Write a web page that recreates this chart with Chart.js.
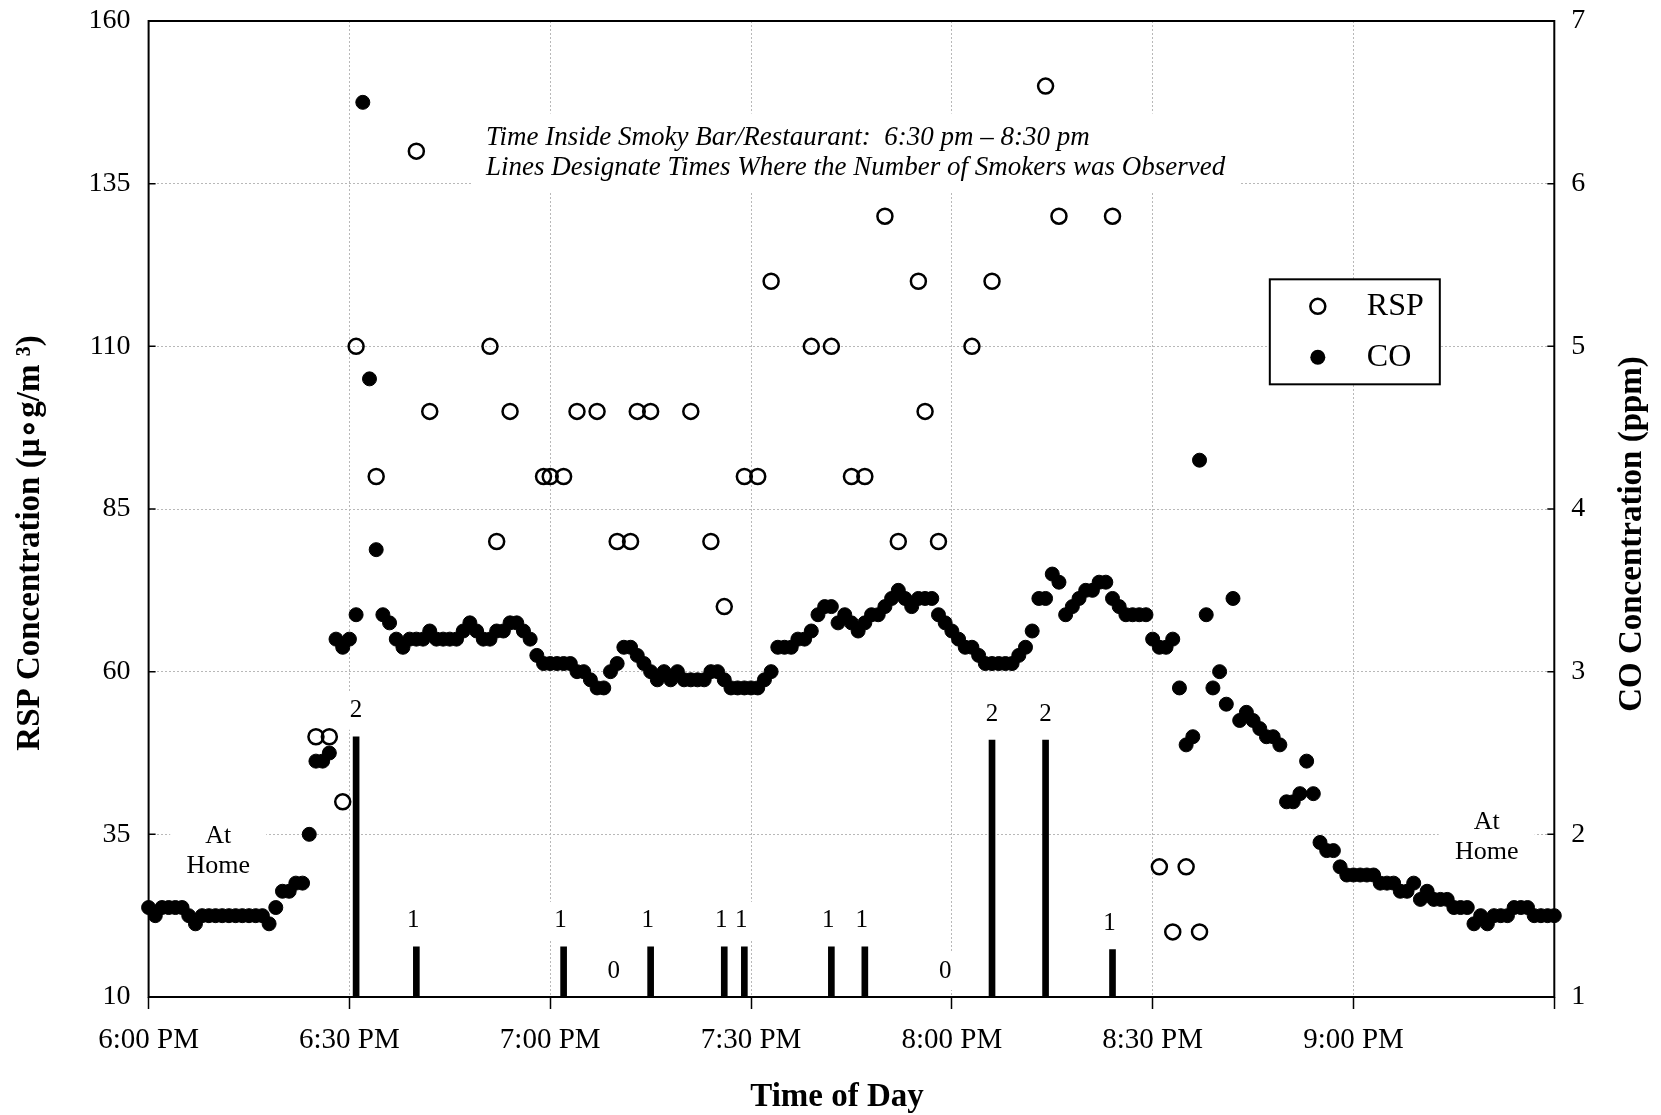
<!DOCTYPE html>
<html>
<head>
<meta charset="utf-8">
<title>RSP and CO Concentration by Time of Day</title>
<script src="https://cdn.jsdelivr.net/npm/chart.js@4.4.0/dist/chart.umd.min.js"></script>
<style>
  html, body { margin: 0; padding: 0; background: #fff; }
</style>
</head>
<body>
<canvas id="myChart" width="1661" height="1115"></canvas>
<script>
// Minutes after 6:00 PM of each RSP reading, and the reading (ug/m3)
const rspMinutes = [25, 27, 29, 31, 34, 40, 42, 51, 52, 54, 59, 60, 62, 64, 67, 70, 72, 73, 75, 81,
  84, 86, 89, 91, 93, 99, 102, 105, 107, 110, 112, 115, 116, 118, 123, 126, 134, 136, 144,
  151, 153, 155, 157];
const rspValues = [50, 50, 40, 110, 90, 140, 100, 110, 80, 100, 90, 90, 90, 100, 100, 80, 80, 100, 100, 100,
  80, 70, 90, 90, 120, 110, 110, 90, 90, 130, 80, 120, 100, 80, 110, 120, 150, 130, 130,
  30, 20, 30, 20];

// CO readings (ppm), one per minute starting at 6:00 PM
const coValues = [
  1.55, 1.50, 1.55, 1.55, 1.55, 1.55, 1.50, 1.45, 1.50, 1.50,
  1.50, 1.50, 1.50, 1.50, 1.50, 1.50, 1.50, 1.50, 1.45, 1.55,
  1.65, 1.65, 1.70, 1.70, 2.00, 2.45, 2.45, 2.50, 3.20, 3.15,
  3.20, 3.35, 6.50, 4.80, 3.75, 3.35, 3.30, 3.20, 3.15, 3.20,
  3.20, 3.20, 3.25, 3.20, 3.20, 3.20, 3.20, 3.25, 3.30, 3.25,
  3.20, 3.20, 3.25, 3.25, 3.30, 3.30, 3.25, 3.20, 3.10, 3.05,
  3.05, 3.05, 3.05, 3.05, 3.00, 3.00, 2.95, 2.90, 2.90, 3.00,
  3.05, 3.15, 3.15, 3.10, 3.05, 3.00, 2.95, 3.00, 2.95, 3.00,
  2.95, 2.95, 2.95, 2.95, 3.00, 3.00, 2.95, 2.90, 2.90, 2.90,
  2.90, 2.90, 2.95, 3.00, 3.15, 3.15, 3.15, 3.20, 3.20, 3.25,
  3.35, 3.40, 3.40, 3.30, 3.35, 3.30, 3.25, 3.30, 3.35, 3.35,
  3.40, 3.45, 3.50, 3.45, 3.40, 3.45, 3.45, 3.45, 3.35, 3.30,
  3.25, 3.20, 3.15, 3.15, 3.10, 3.05, 3.05, 3.05, 3.05, 3.05,
  3.10, 3.15, 3.25, 3.45, 3.45, 3.60, 3.55, 3.35, 3.40, 3.45,
  3.50, 3.50, 3.55, 3.55, 3.45, 3.40, 3.35, 3.35, 3.35, 3.35,
  3.20, 3.15, 3.15, 3.20, 2.90, 2.55, 2.60, 4.30, 3.35, 2.90,
  3.00, 2.80, 3.45, 2.70, 2.75, 2.70, 2.65, 2.60, 2.60, 2.55,
  2.20, 2.20, 2.25, 2.45, 2.25, 1.95, 1.90, 1.90, 1.80, 1.75,
  1.75, 1.75, 1.75, 1.75, 1.70, 1.70, 1.70, 1.65, 1.65, 1.70,
  1.60, 1.65, 1.60, 1.60, 1.60, 1.55, 1.55, 1.55, 1.45, 1.50,
  1.45, 1.50, 1.50, 1.50, 1.55, 1.55, 1.55, 1.50, 1.50, 1.50, 1.50
];

// Smoker observations: time, number of smokers, and line top (in RSP axis units)
const smokerMinutes = [31, 40, 62, 69.5, 75, 86, 89, 102, 107, 119, 126, 134, 144];
const smokerCounts = [2, 1, 1, 0, 1, 1, 1, 1, 1, 0, 2, 2, 1];
const smokerTops = [50, 17.7, 17.7, 10, 17.7, 17.7, 17.7, 17.7, 17.7, 10, 49.5, 49.5, 17.3];

// Axis ticks
const timeTickMinutes = [0, 30, 60, 90, 120, 150, 180];
const timeTickLabels = ['6:00 PM', '6:30 PM', '7:00 PM', '7:30 PM', '8:00 PM', '8:30 PM', '9:00 PM'];

const noteLines = ['Time Inside Smoky Bar/Restaurant:  6:30 pm \u2013 8:30 pm',
  'Lines Designate Times Where the Number of Smokers was Observed'];

const serif = '"Liberation Serif", "Times New Roman", serif';

// Build the datasets from the arrays above
function buildData() {
  const bars = [];
  smokerMinutes.forEach(function(m, i) {
    if (smokerCounts[i] > 0) bars.push({ x: m, y: [10, smokerTops[i]] });
  });
  return {
    datasets: [
      {
        type: 'scatter', label: 'RSP', yAxisID: 'y', order: 1, clip: false,
        data: rspMinutes.map(function(m, i) { return { x: m, y: rspValues[i] }; }),
        pointRadius: 7.5, pointBorderWidth: 2.5,
        borderColor: '#000', backgroundColor: 'rgba(0,0,0,0)'
      },
      {
        type: 'scatter', label: 'CO', yAxisID: 'y1', order: 2, clip: false,
        data: coValues.map(function(v, i) { return { x: i, y: v }; }),
        pointRadius: 7, pointBorderWidth: 1,
        borderColor: '#000', backgroundColor: '#000'
      },
      {
        type: 'bar', label: 'Smokers', yAxisID: 'y', order: 3,
        data: bars, barThickness: 6, grouped: false,
        backgroundColor: '#000', borderWidth: 0
      }
    ]
  };
}

// White boxes behind the text (they hide the grid lines), then the frame
const underlayPlugin = {
  id: 'underlay',
  beforeDatasetsDraw(chart) {
    const ctx = chart.ctx, a = chart.chartArea;
    const xs = chart.scales.x, ys = chart.scales.y;
    ctx.save();
    ctx.fillStyle = '#fff';
    // note box
    ctx.font = 'italic 27px ' + serif;
    const nx = xs.getPixelForValue(50.4), ny = ys.getPixelForValue(142.1);
    const w = Math.max(ctx.measureText(noteLines[0]).width, ctx.measureText(noteLines[1]).width);
    ctx.fillRect(nx - 15, ny - 24, w + 30, 78);
    // at home boxes
    [[10.4, 32.4], [199.9, 34.5]].forEach(function(p) {
      const cx = xs.getPixelForValue(p[0]), cy = ys.getPixelForValue(p[1]);
      ctx.fillRect(cx - 48, cy - 30, 96, 64);
    });
    // smoker label boxes
    smokerMinutes.forEach(function(m, i) {
      const cx = xs.getPixelForValue(m), cy = ys.getPixelForValue(smokerTops[i]) - 26;
      ctx.fillRect(cx - 14, cy - 19, 28, 38);
    });
    // frame and inward y ticks
    ctx.strokeStyle = '#000';
    ctx.lineWidth = 2;
    ctx.strokeRect(a.left, a.top, a.right - a.left, a.bottom - a.top);
    ctx.lineWidth = 1.5;
    ctx.beginPath();
    ys.ticks.forEach(function(t) {
      const y = ys.getPixelForValue(t.value);
      ctx.moveTo(a.left, y); ctx.lineTo(a.left + 7, y);
    });
    const y1 = chart.scales.y1;
    y1.ticks.forEach(function(t) {
      const y = y1.getPixelForValue(t.value);
      ctx.moveTo(a.right, y); ctx.lineTo(a.right - 7, y);
    });
    ctx.stroke();
    ctx.restore();
  }
};

// Text, smoker counts, legend and axis titles
const overlayPlugin = {
  id: 'overlay',
  afterDatasetsDraw(chart) {
    const ctx = chart.ctx;
    const xs = chart.scales.x, ys = chart.scales.y;
    ctx.save();
    ctx.fillStyle = '#000';
    ctx.textBaseline = 'middle';

    // note
    ctx.font = 'italic 27px ' + serif;
    ctx.textAlign = 'left';
    const nx = xs.getPixelForValue(50.4), ny = ys.getPixelForValue(142.1);
    ctx.fillText(noteLines[0], nx, ny);
    ctx.fillText(noteLines[1], nx, ny + 30);

    // at home
    ctx.font = '26px ' + serif;
    ctx.textAlign = 'center';
    [[10.4, 32.4], [199.9, 34.5]].forEach(function(p) {
      const cx = xs.getPixelForValue(p[0]), cy = ys.getPixelForValue(p[1]);
      ctx.fillText('At', cx, cy - 15);
      ctx.fillText('Home', cx, cy + 15);
    });

    // smoker counts
    ctx.font = '25px ' + serif;
    smokerMinutes.forEach(function(m, i) {
      const cx = xs.getPixelForValue(m) - (smokerCounts[i] === 1 ? 3 : 0);
      const cy = ys.getPixelForValue(smokerTops[i]) - 26;
      ctx.fillText(String(smokerCounts[i]), cx, cy);
    });

    // legend
    const lx = xs.getPixelForValue(167.5), ly = ys.getPixelForValue(120.3);
    ctx.fillStyle = '#fff';
    ctx.fillRect(lx, ly, 170, 105);
    ctx.strokeStyle = '#000';
    ctx.lineWidth = 2;
    ctx.strokeRect(lx, ly, 170, 105);
    ctx.lineWidth = 2.5;
    ctx.beginPath();
    ctx.arc(lx + 48, ly + 27, 7.5, 0, Math.PI * 2);
    ctx.stroke();
    ctx.fillStyle = '#000';
    ctx.beginPath();
    ctx.arc(lx + 48, ly + 78, 7.5, 0, Math.PI * 2);
    ctx.fill();
    ctx.font = '32px ' + serif;
    ctx.textAlign = 'left';
    ctx.fillText('RSP', lx + 97, ly + 27);
    ctx.fillText('CO', lx + 97, ly + 78);

    // axis titles
    ctx.font = 'bold 33px ' + serif;
    ctx.textAlign = 'center';
    ctx.fillText('Time of Day', 837, 1097);
    ctx.save();
    ctx.translate(30, 543);
    ctx.rotate(-Math.PI / 2);
    ctx.fillText('RSP Concentration (\u03bc\u2218g/m \u00b3)', 0, 0);
    ctx.restore();
    ctx.save();
    ctx.translate(1632, 534);
    ctx.rotate(-Math.PI / 2);
    ctx.fillText('CO Concentration (ppm)', 0, 0);
    ctx.restore();
    ctx.restore();
  }
};

// keep the plot box fixed: fixed side widths, no extra label padding
function fixWidth(w) {
  return function(s) {
    s.width = w;
    s.paddingTop = 0;
    s.paddingBottom = 0;
  };
}

function drawChart() {
  const ctx = document.getElementById('myChart').getContext('2d');
  const tickFont = { family: serif, size: 28 };
  new Chart(ctx, {
    type: 'scatter',
    data: buildData(),
    plugins: [underlayPlugin, overlayPlugin],
    options: {
      responsive: false,
      animation: false,
      layout: { padding: { top: 21, left: 0, right: 0, bottom: 0 } },
      plugins: { legend: { display: false }, tooltip: { enabled: false } },
      scales: {
        x: {
          type: 'linear', min: 0, max: 210, offset: false,
          afterFit: function(s) { s.height = 118; s.paddingLeft = 0; s.paddingRight = 0; },
          ticks: {
            stepSize: 30, color: '#000', padding: 14, maxRotation: 0, autoSkip: false,
            font: { family: serif, size: 29 },
            callback: function(v) {
              const i = timeTickMinutes.indexOf(v);
              return i >= 0 ? timeTickLabels[i] : '';
            }
          },
          grid: { offset: false, color: '#b8b8b8', lineWidth: 1, tickLength: 12, tickColor: '#000', tickWidth: 1.5 },
          border: { display: false, dash: [2, 2] }
        },
        y: {
          position: 'left', min: 10, max: 160,
          afterFit: fixWidth(148.6),
          ticks: { stepSize: 25, color: '#000', padding: 18, font: tickFont },
          grid: { color: '#b8b8b8', lineWidth: 1, drawTicks: false },
          border: { display: false, dash: [2, 2] }
        },
        y1: {
          position: 'right', min: 1, max: 7,
          afterFit: fixWidth(106.7),
          ticks: { stepSize: 1, color: '#000', padding: 17, font: tickFont },
          grid: { drawOnChartArea: false, drawTicks: false },
          border: { display: false }
        }
      }
    }
  });
}

window.onload = drawChart;
</script>
</body>
</html>
